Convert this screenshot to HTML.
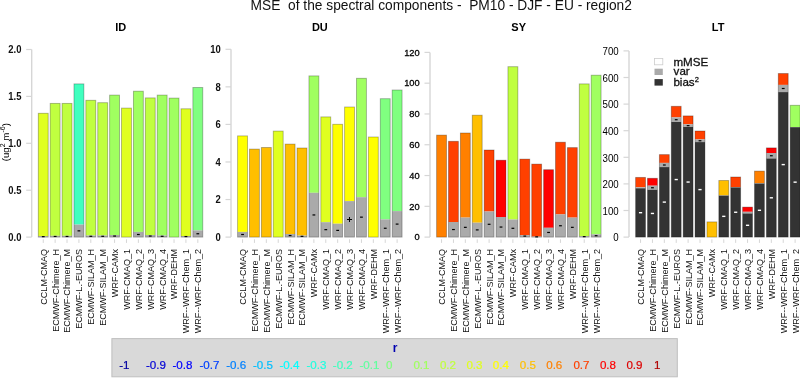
<!DOCTYPE html><html><head><meta charset="utf-8"><style>
html,body{margin:0;padding:0;background:#fff;width:800px;height:378px;overflow:hidden}
svg{display:block;will-change:transform}
text{font-family:"Liberation Sans",sans-serif;white-space:pre}
.tk{font-size:10.5px;font-weight:bold;fill:#111}
.tr{font-size:10px;fill:#000}
.tm{font-size:9.8px;fill:#000;stroke:#000;stroke-width:0.3px}
.xl{font-size:9.05px;fill:#111}
.pt{font-size:11px;font-weight:bold;fill:#000}
.sg{font-size:8px;font-weight:bold}
</style></head><body>
<svg width="800" height="378" viewBox="0 0 800 378">
<text x="250.6" y="9.75" style="font-size:13.76px;fill:#111">MSE  of the spectral components -  PM10 - DJF - EU - region2</text>
<text class="pt" x="120.8" y="31.2" text-anchor="middle">ID</text>
<line x1="31.7" y1="237.1" x2="31.7" y2="49.5" stroke="#d6d6d6" stroke-width="1.4"/>
<line x1="26.2" y1="237.1" x2="31.7" y2="237.1" stroke="#d6d6d6" stroke-width="1.2"/>
<text class="tk" transform="translate(21.4,241) scale(0.9,1)" text-anchor="end">0.0</text>
<line x1="26.2" y1="190.2" x2="31.7" y2="190.2" stroke="#d6d6d6" stroke-width="1.2"/>
<text class="tk" transform="translate(21.4,194.1) scale(0.9,1)" text-anchor="end">0.5</text>
<line x1="26.2" y1="143.3" x2="31.7" y2="143.3" stroke="#d6d6d6" stroke-width="1.2"/>
<text class="tk" transform="translate(21.4,147.2) scale(0.9,1)" text-anchor="end">1.0</text>
<line x1="26.2" y1="96.4" x2="31.7" y2="96.4" stroke="#d6d6d6" stroke-width="1.2"/>
<text class="tk" transform="translate(21.4,100.3) scale(0.9,1)" text-anchor="end">1.5</text>
<line x1="26.2" y1="49.5" x2="31.7" y2="49.5" stroke="#d6d6d6" stroke-width="1.2"/>
<text class="tk" transform="translate(21.4,53.4) scale(0.9,1)" text-anchor="end">2.0</text>
<rect x="38.3" y="113.3" width="9.9" height="122.9" fill="#e0ff20"/>
<rect x="38.3" y="236.2" width="9.9" height="0.9" fill="#aaaaaa"/>
<rect x="38.3" y="113.3" width="9.9" height="123.8" fill="none" stroke="rgba(0,0,0,0.3)" stroke-width="0.9"/>
<rect x="41.85" y="236.05" width="2.8" height="1.2" fill="#000"/>
<line x1="43.25" y1="239.3" x2="43.25" y2="242.9" stroke="#d6d6d6" stroke-width="1"/>
<text class="xl" transform="translate(46.7,248.9) rotate(-90)" text-anchor="end">CCLM-CMAQ</text>
<rect x="50.19" y="103.4" width="9.9" height="132.4" fill="#c0ff40"/>
<rect x="50.19" y="235.8" width="9.9" height="1.3" fill="#aaaaaa"/>
<rect x="50.19" y="103.4" width="9.9" height="133.7" fill="none" stroke="rgba(0,0,0,0.3)" stroke-width="0.9"/>
<rect x="53.74" y="235.85" width="2.8" height="1.2" fill="#000"/>
<line x1="55.14" y1="239.3" x2="55.14" y2="242.9" stroke="#d6d6d6" stroke-width="1"/>
<text class="xl" transform="translate(58.59,248.9) rotate(-90)" text-anchor="end">ECMWF-Chimere_H</text>
<rect x="62.08" y="103.4" width="9.9" height="132.4" fill="#c0ff40"/>
<rect x="62.08" y="235.8" width="9.9" height="1.3" fill="#aaaaaa"/>
<rect x="62.08" y="103.4" width="9.9" height="133.7" fill="none" stroke="rgba(0,0,0,0.3)" stroke-width="0.9"/>
<rect x="65.63" y="235.85" width="2.8" height="1.2" fill="#000"/>
<line x1="67.03" y1="239.3" x2="67.03" y2="242.9" stroke="#d6d6d6" stroke-width="1"/>
<text class="xl" transform="translate(70.48,248.9) rotate(-90)" text-anchor="end">ECMWF-Chimere_M</text>
<rect x="73.97" y="83.9" width="9.9" height="140.7" fill="#40ffbf"/>
<rect x="73.97" y="224.6" width="9.9" height="12.5" fill="#aaaaaa"/>
<rect x="73.97" y="83.9" width="9.9" height="153.2" fill="none" stroke="rgba(0,0,0,0.3)" stroke-width="0.9"/>
<rect x="77.52" y="230.25" width="2.8" height="1.2" fill="#000"/>
<line x1="78.92" y1="239.3" x2="78.92" y2="242.9" stroke="#d6d6d6" stroke-width="1"/>
<text class="xl" transform="translate(82.37,248.9) rotate(-90)" text-anchor="end">ECMWF-L.-EUROS</text>
<rect x="85.86" y="100.3" width="9.9" height="135.2" fill="#c0ff40"/>
<rect x="85.86" y="235.5" width="9.9" height="1.6" fill="#aaaaaa"/>
<rect x="85.86" y="100.3" width="9.9" height="136.8" fill="none" stroke="rgba(0,0,0,0.3)" stroke-width="0.9"/>
<rect x="89.41" y="235.7" width="2.8" height="1.2" fill="#000"/>
<line x1="90.81" y1="239.3" x2="90.81" y2="242.9" stroke="#d6d6d6" stroke-width="1"/>
<text class="xl" transform="translate(94.26,248.9) rotate(-90)" text-anchor="end">ECMWF-SILAM_H</text>
<rect x="97.75" y="102.7" width="9.9" height="132.8" fill="#c0ff40"/>
<rect x="97.75" y="235.5" width="9.9" height="1.6" fill="#aaaaaa"/>
<rect x="97.75" y="102.7" width="9.9" height="134.4" fill="none" stroke="rgba(0,0,0,0.3)" stroke-width="0.9"/>
<rect x="101.3" y="235.7" width="2.8" height="1.2" fill="#000"/>
<line x1="102.7" y1="239.3" x2="102.7" y2="242.9" stroke="#d6d6d6" stroke-width="1"/>
<text class="xl" transform="translate(106.15,248.9) rotate(-90)" text-anchor="end">ECMWF-SILAM_M</text>
<rect x="109.64" y="95.1" width="9.9" height="139.9" fill="#a0ff60"/>
<rect x="109.64" y="235" width="9.9" height="2.1" fill="#aaaaaa"/>
<rect x="109.64" y="95.1" width="9.9" height="142" fill="none" stroke="rgba(0,0,0,0.3)" stroke-width="0.9"/>
<rect x="113.19" y="235.45" width="2.8" height="1.2" fill="#000"/>
<line x1="114.59" y1="239.3" x2="114.59" y2="242.9" stroke="#d6d6d6" stroke-width="1"/>
<text class="xl" transform="translate(118.04,248.9) rotate(-90)" text-anchor="end">WRF-CAMx</text>
<rect x="121.53" y="108.1" width="9.9" height="129" fill="#e0ff20"/>
<rect x="121.53" y="108.1" width="9.9" height="129" fill="none" stroke="rgba(0,0,0,0.3)" stroke-width="0.9"/>
<line x1="126.48" y1="239.3" x2="126.48" y2="242.9" stroke="#d6d6d6" stroke-width="1"/>
<text class="xl" transform="translate(129.93,248.9) rotate(-90)" text-anchor="end">WRF-CMAQ_1</text>
<rect x="133.42" y="91.2" width="9.9" height="140.7" fill="#a0ff60"/>
<rect x="133.42" y="231.9" width="9.9" height="5.2" fill="#aaaaaa"/>
<rect x="133.42" y="91.2" width="9.9" height="145.9" fill="none" stroke="rgba(0,0,0,0.3)" stroke-width="0.9"/>
<rect x="136.97" y="233.9" width="2.8" height="1.2" fill="#000"/>
<line x1="138.37" y1="239.3" x2="138.37" y2="242.9" stroke="#d6d6d6" stroke-width="1"/>
<text class="xl" transform="translate(141.82,248.9) rotate(-90)" text-anchor="end">WRF-CMAQ_2</text>
<rect x="145.31" y="97.9" width="9.9" height="137.1" fill="#c0ff40"/>
<rect x="145.31" y="235" width="9.9" height="2.1" fill="#aaaaaa"/>
<rect x="145.31" y="97.9" width="9.9" height="139.2" fill="none" stroke="rgba(0,0,0,0.3)" stroke-width="0.9"/>
<rect x="148.86" y="235.45" width="2.8" height="1.2" fill="#000"/>
<line x1="150.26" y1="239.3" x2="150.26" y2="242.9" stroke="#d6d6d6" stroke-width="1"/>
<text class="xl" transform="translate(153.71,248.9) rotate(-90)" text-anchor="end">WRF-CMAQ_3</text>
<rect x="157.2" y="95.1" width="9.9" height="140.4" fill="#a0ff60"/>
<rect x="157.2" y="235.5" width="9.9" height="1.6" fill="#aaaaaa"/>
<rect x="157.2" y="95.1" width="9.9" height="142" fill="none" stroke="rgba(0,0,0,0.3)" stroke-width="0.9"/>
<rect x="160.75" y="235.7" width="2.8" height="1.2" fill="#000"/>
<line x1="162.15" y1="239.3" x2="162.15" y2="242.9" stroke="#d6d6d6" stroke-width="1"/>
<text class="xl" transform="translate(165.6,248.9) rotate(-90)" text-anchor="end">WRF-CMAQ_4</text>
<rect x="169.09" y="98.1" width="9.9" height="139" fill="#a0ff60"/>
<rect x="169.09" y="98.1" width="9.9" height="139" fill="none" stroke="rgba(0,0,0,0.3)" stroke-width="0.9"/>
<line x1="174.04" y1="239.3" x2="174.04" y2="242.9" stroke="#d6d6d6" stroke-width="1"/>
<text class="xl" transform="translate(177.49,248.9) rotate(-90)" text-anchor="end">WRF-DEHM</text>
<rect x="180.98" y="108.8" width="9.9" height="127.2" fill="#e0ff20"/>
<rect x="180.98" y="236" width="9.9" height="1.1" fill="#aaaaaa"/>
<rect x="180.98" y="108.8" width="9.9" height="128.3" fill="none" stroke="rgba(0,0,0,0.3)" stroke-width="0.9"/>
<rect x="184.53" y="235.95" width="2.8" height="1.2" fill="#000"/>
<line x1="185.93" y1="239.3" x2="185.93" y2="242.9" stroke="#d6d6d6" stroke-width="1"/>
<text class="xl" transform="translate(189.38,248.9) rotate(-90)" text-anchor="end">WRF--WRF-Chem_1</text>
<rect x="192.87" y="87.5" width="9.9" height="142.9" fill="#80ff80"/>
<rect x="192.87" y="230.4" width="9.9" height="6.7" fill="#aaaaaa"/>
<rect x="192.87" y="87.5" width="9.9" height="149.6" fill="none" stroke="rgba(0,0,0,0.3)" stroke-width="0.9"/>
<rect x="196.42" y="233.15" width="2.8" height="1.2" fill="#000"/>
<line x1="197.82" y1="239.3" x2="197.82" y2="242.9" stroke="#d6d6d6" stroke-width="1"/>
<text class="xl" transform="translate(201.27,248.9) rotate(-90)" text-anchor="end">WRF--WRF-Chem_2</text>
<text class="pt" x="319.85" y="31.2" text-anchor="middle">DU</text>
<line x1="231" y1="237.1" x2="231" y2="49.3" stroke="#d6d6d6" stroke-width="1.4"/>
<line x1="225.5" y1="237.1" x2="231" y2="237.1" stroke="#d6d6d6" stroke-width="1.2"/>
<text class="tk" transform="translate(220.7,241) scale(0.9,1)" text-anchor="end">0</text>
<line x1="225.5" y1="199.54" x2="231" y2="199.54" stroke="#d6d6d6" stroke-width="1.2"/>
<text class="tk" transform="translate(220.7,203.44) scale(0.9,1)" text-anchor="end">2</text>
<line x1="225.5" y1="161.98" x2="231" y2="161.98" stroke="#d6d6d6" stroke-width="1.2"/>
<text class="tk" transform="translate(220.7,165.88) scale(0.9,1)" text-anchor="end">4</text>
<line x1="225.5" y1="124.42" x2="231" y2="124.42" stroke="#d6d6d6" stroke-width="1.2"/>
<text class="tk" transform="translate(220.7,128.32) scale(0.9,1)" text-anchor="end">6</text>
<line x1="225.5" y1="86.86" x2="231" y2="86.86" stroke="#d6d6d6" stroke-width="1.2"/>
<text class="tk" transform="translate(220.7,90.76) scale(0.9,1)" text-anchor="end">8</text>
<line x1="225.5" y1="49.3" x2="231" y2="49.3" stroke="#d6d6d6" stroke-width="1.2"/>
<text class="tk" transform="translate(220.7,53.2) scale(0.9,1)" text-anchor="end">10</text>
<rect x="237.6" y="135.9" width="9.9" height="96" fill="#ffff00"/>
<rect x="237.6" y="231.9" width="9.9" height="5.2" fill="#aaaaaa"/>
<rect x="237.6" y="135.9" width="9.9" height="101.2" fill="none" stroke="rgba(0,0,0,0.3)" stroke-width="0.9"/>
<rect x="241.15" y="233.9" width="2.8" height="1.2" fill="#000"/>
<line x1="242.55" y1="239.3" x2="242.55" y2="242.9" stroke="#d6d6d6" stroke-width="1"/>
<text class="xl" transform="translate(246,248.9) rotate(-90)" text-anchor="end">CCLM-CMAQ</text>
<rect x="249.49" y="149.1" width="9.9" height="88" fill="#ffbf00"/>
<rect x="249.49" y="149.1" width="9.9" height="88" fill="none" stroke="rgba(0,0,0,0.3)" stroke-width="0.9"/>
<line x1="254.44" y1="239.3" x2="254.44" y2="242.9" stroke="#d6d6d6" stroke-width="1"/>
<text class="xl" transform="translate(257.89,248.9) rotate(-90)" text-anchor="end">ECMWF-Chimere_H</text>
<rect x="261.38" y="147.5" width="9.9" height="89.6" fill="#ffbf00"/>
<rect x="261.38" y="147.5" width="9.9" height="89.6" fill="none" stroke="rgba(0,0,0,0.3)" stroke-width="0.9"/>
<line x1="266.33" y1="239.3" x2="266.33" y2="242.9" stroke="#d6d6d6" stroke-width="1"/>
<text class="xl" transform="translate(269.78,248.9) rotate(-90)" text-anchor="end">ECMWF-Chimere_M</text>
<rect x="273.27" y="131.1" width="9.9" height="106" fill="#e0ff20"/>
<rect x="273.27" y="131.1" width="9.9" height="106" fill="none" stroke="rgba(0,0,0,0.3)" stroke-width="0.9"/>
<line x1="278.22" y1="239.3" x2="278.22" y2="242.9" stroke="#d6d6d6" stroke-width="1"/>
<text class="xl" transform="translate(281.67,248.9) rotate(-90)" text-anchor="end">ECMWF-L.-EUROS</text>
<rect x="285.16" y="144.1" width="9.9" height="89.9" fill="#ffbf00"/>
<rect x="285.16" y="234" width="9.9" height="3.1" fill="#aaaaaa"/>
<rect x="285.16" y="144.1" width="9.9" height="93" fill="none" stroke="rgba(0,0,0,0.3)" stroke-width="0.9"/>
<rect x="288.71" y="234.95" width="2.8" height="1.2" fill="#000"/>
<line x1="290.11" y1="239.3" x2="290.11" y2="242.9" stroke="#d6d6d6" stroke-width="1"/>
<text class="xl" transform="translate(293.56,248.9) rotate(-90)" text-anchor="end">ECMWF-SILAM_H</text>
<rect x="297.05" y="148" width="9.9" height="87.6" fill="#ffbf00"/>
<rect x="297.05" y="235.6" width="9.9" height="1.5" fill="#aaaaaa"/>
<rect x="297.05" y="148" width="9.9" height="89.1" fill="none" stroke="rgba(0,0,0,0.3)" stroke-width="0.9"/>
<rect x="300.6" y="235.75" width="2.8" height="1.2" fill="#000"/>
<line x1="302" y1="239.3" x2="302" y2="242.9" stroke="#d6d6d6" stroke-width="1"/>
<text class="xl" transform="translate(305.45,248.9) rotate(-90)" text-anchor="end">ECMWF-SILAM_M</text>
<rect x="308.94" y="75.9" width="9.9" height="116.9" fill="#a0ff60"/>
<rect x="308.94" y="192.8" width="9.9" height="44.3" fill="#aaaaaa"/>
<rect x="308.94" y="75.9" width="9.9" height="161.2" fill="none" stroke="rgba(0,0,0,0.3)" stroke-width="0.9"/>
<rect x="312.49" y="214.35" width="2.8" height="1.2" fill="#000"/>
<line x1="313.89" y1="239.3" x2="313.89" y2="242.9" stroke="#d6d6d6" stroke-width="1"/>
<text class="xl" transform="translate(317.34,248.9) rotate(-90)" text-anchor="end">WRF-CAMx</text>
<rect x="320.83" y="116.9" width="9.9" height="105.3" fill="#e0ff20"/>
<rect x="320.83" y="222.2" width="9.9" height="14.9" fill="#aaaaaa"/>
<rect x="320.83" y="116.9" width="9.9" height="120.2" fill="none" stroke="rgba(0,0,0,0.3)" stroke-width="0.9"/>
<rect x="324.38" y="229.05" width="2.8" height="1.2" fill="#000"/>
<line x1="325.78" y1="239.3" x2="325.78" y2="242.9" stroke="#d6d6d6" stroke-width="1"/>
<text class="xl" transform="translate(329.23,248.9) rotate(-90)" text-anchor="end">WRF-CMAQ_1</text>
<rect x="332.72" y="124.3" width="9.9" height="99.4" fill="#ffff00"/>
<rect x="332.72" y="223.7" width="9.9" height="13.4" fill="#aaaaaa"/>
<rect x="332.72" y="124.3" width="9.9" height="112.8" fill="none" stroke="rgba(0,0,0,0.3)" stroke-width="0.9"/>
<rect x="336.27" y="229.8" width="2.8" height="1.2" fill="#000"/>
<line x1="337.67" y1="239.3" x2="337.67" y2="242.9" stroke="#d6d6d6" stroke-width="1"/>
<text class="xl" transform="translate(341.12,248.9) rotate(-90)" text-anchor="end">WRF-CMAQ_2</text>
<rect x="344.61" y="107" width="9.9" height="94.1" fill="#ffff00"/>
<rect x="344.61" y="201.1" width="9.9" height="36" fill="#aaaaaa"/>
<rect x="344.61" y="107" width="9.9" height="130.1" fill="none" stroke="rgba(0,0,0,0.3)" stroke-width="0.9"/>
<rect x="347" y="219" width="5" height="1" fill="#000"/>
<rect x="349" y="217" width="1" height="5" fill="#000"/>
<line x1="349.56" y1="239.3" x2="349.56" y2="242.9" stroke="#d6d6d6" stroke-width="1"/>
<text class="xl" transform="translate(353.01,248.9) rotate(-90)" text-anchor="end">WRF-CMAQ_3</text>
<rect x="356.5" y="78.3" width="9.9" height="118.9" fill="#a0ff60"/>
<rect x="356.5" y="197.2" width="9.9" height="39.9" fill="#aaaaaa"/>
<rect x="356.5" y="78.3" width="9.9" height="158.8" fill="none" stroke="rgba(0,0,0,0.3)" stroke-width="0.9"/>
<rect x="360.05" y="216.55" width="2.8" height="1.2" fill="#000"/>
<line x1="361.45" y1="239.3" x2="361.45" y2="242.9" stroke="#d6d6d6" stroke-width="1"/>
<text class="xl" transform="translate(364.9,248.9) rotate(-90)" text-anchor="end">WRF-CMAQ_4</text>
<rect x="368.39" y="137" width="9.9" height="100.1" fill="#ffff00"/>
<rect x="368.39" y="137" width="9.9" height="100.1" fill="none" stroke="rgba(0,0,0,0.3)" stroke-width="0.9"/>
<line x1="373.34" y1="239.3" x2="373.34" y2="242.9" stroke="#d6d6d6" stroke-width="1"/>
<text class="xl" transform="translate(376.79,248.9) rotate(-90)" text-anchor="end">WRF-DEHM</text>
<rect x="380.28" y="98.7" width="9.9" height="120.7" fill="#80ff80"/>
<rect x="380.28" y="219.4" width="9.9" height="17.7" fill="#aaaaaa"/>
<rect x="380.28" y="98.7" width="9.9" height="138.4" fill="none" stroke="rgba(0,0,0,0.3)" stroke-width="0.9"/>
<rect x="383.83" y="227.65" width="2.8" height="1.2" fill="#000"/>
<line x1="385.23" y1="239.3" x2="385.23" y2="242.9" stroke="#d6d6d6" stroke-width="1"/>
<text class="xl" transform="translate(388.68,248.9) rotate(-90)" text-anchor="end">WRF--WRF-Chem_1</text>
<rect x="392.17" y="90" width="9.9" height="121.1" fill="#80ff80"/>
<rect x="392.17" y="211.1" width="9.9" height="26" fill="#aaaaaa"/>
<rect x="392.17" y="90" width="9.9" height="147.1" fill="none" stroke="rgba(0,0,0,0.3)" stroke-width="0.9"/>
<rect x="395.72" y="223.5" width="2.8" height="1.2" fill="#000"/>
<line x1="397.12" y1="239.3" x2="397.12" y2="242.9" stroke="#d6d6d6" stroke-width="1"/>
<text class="xl" transform="translate(400.57,248.9) rotate(-90)" text-anchor="end">WRF--WRF-Chem_2</text>
<text class="pt" x="518.7" y="31.2" text-anchor="middle">SY</text>
<line x1="430" y1="237.1" x2="430" y2="52.4" stroke="#d6d6d6" stroke-width="1.4"/>
<line x1="424.5" y1="237.1" x2="430" y2="237.1" stroke="#d6d6d6" stroke-width="1.2"/>
<text class="tm" transform="translate(419.7,240.3) scale(0.95,1)" text-anchor="end">0</text>
<line x1="424.5" y1="206.32" x2="430" y2="206.32" stroke="#d6d6d6" stroke-width="1.2"/>
<text class="tm" transform="translate(419.7,209.52) scale(0.95,1)" text-anchor="end">20</text>
<line x1="424.5" y1="175.53" x2="430" y2="175.53" stroke="#d6d6d6" stroke-width="1.2"/>
<text class="tm" transform="translate(419.7,178.73) scale(0.95,1)" text-anchor="end">40</text>
<line x1="424.5" y1="144.75" x2="430" y2="144.75" stroke="#d6d6d6" stroke-width="1.2"/>
<text class="tm" transform="translate(419.7,147.95) scale(0.95,1)" text-anchor="end">60</text>
<line x1="424.5" y1="113.97" x2="430" y2="113.97" stroke="#d6d6d6" stroke-width="1.2"/>
<text class="tm" transform="translate(419.7,117.17) scale(0.95,1)" text-anchor="end">80</text>
<line x1="424.5" y1="83.18" x2="430" y2="83.18" stroke="#d6d6d6" stroke-width="1.2"/>
<text class="tm" transform="translate(419.7,86.38) scale(0.95,1)" text-anchor="end">100</text>
<line x1="424.5" y1="52.4" x2="430" y2="52.4" stroke="#d6d6d6" stroke-width="1.2"/>
<text class="tm" transform="translate(419.7,55.6) scale(0.95,1)" text-anchor="end">120</text>
<rect x="436.6" y="135.1" width="9.9" height="102" fill="#ff8000"/>
<rect x="436.6" y="135.1" width="9.9" height="102" fill="none" stroke="rgba(0,0,0,0.3)" stroke-width="0.9"/>
<line x1="441.55" y1="239.3" x2="441.55" y2="242.9" stroke="#d6d6d6" stroke-width="1"/>
<text class="xl" transform="translate(445,248.9) rotate(-90)" text-anchor="end">CCLM-CMAQ</text>
<rect x="448.49" y="141.3" width="9.9" height="80.7" fill="#ff4000"/>
<rect x="448.49" y="222" width="9.9" height="15.1" fill="#aaaaaa"/>
<rect x="448.49" y="141.3" width="9.9" height="95.8" fill="none" stroke="rgba(0,0,0,0.3)" stroke-width="0.9"/>
<rect x="452.04" y="228.95" width="2.8" height="1.2" fill="#000"/>
<line x1="453.44" y1="239.3" x2="453.44" y2="242.9" stroke="#d6d6d6" stroke-width="1"/>
<text class="xl" transform="translate(456.89,248.9) rotate(-90)" text-anchor="end">ECMWF-Chimere_H</text>
<rect x="460.38" y="133" width="9.9" height="84.6" fill="#ff8000"/>
<rect x="460.38" y="217.6" width="9.9" height="19.5" fill="#aaaaaa"/>
<rect x="460.38" y="133" width="9.9" height="104.1" fill="none" stroke="rgba(0,0,0,0.3)" stroke-width="0.9"/>
<rect x="463.93" y="226.75" width="2.8" height="1.2" fill="#000"/>
<line x1="465.33" y1="239.3" x2="465.33" y2="242.9" stroke="#d6d6d6" stroke-width="1"/>
<text class="xl" transform="translate(468.78,248.9) rotate(-90)" text-anchor="end">ECMWF-Chimere_M</text>
<rect x="472.27" y="115.2" width="9.9" height="107.5" fill="#ffbf00"/>
<rect x="472.27" y="222.7" width="9.9" height="14.4" fill="#aaaaaa"/>
<rect x="472.27" y="115.2" width="9.9" height="121.9" fill="none" stroke="rgba(0,0,0,0.3)" stroke-width="0.9"/>
<rect x="475.82" y="229.3" width="2.8" height="1.2" fill="#000"/>
<line x1="477.22" y1="239.3" x2="477.22" y2="242.9" stroke="#d6d6d6" stroke-width="1"/>
<text class="xl" transform="translate(480.67,248.9) rotate(-90)" text-anchor="end">ECMWF-L.-EUROS</text>
<rect x="484.16" y="150" width="9.9" height="61.5" fill="#ff4000"/>
<rect x="484.16" y="211.5" width="9.9" height="25.6" fill="#aaaaaa"/>
<rect x="484.16" y="150" width="9.9" height="87.1" fill="none" stroke="rgba(0,0,0,0.3)" stroke-width="0.9"/>
<rect x="487.71" y="223.7" width="2.8" height="1.2" fill="#000"/>
<line x1="489.11" y1="239.3" x2="489.11" y2="242.9" stroke="#d6d6d6" stroke-width="1"/>
<text class="xl" transform="translate(492.56,248.9) rotate(-90)" text-anchor="end">ECMWF-SILAM_H</text>
<rect x="496.05" y="160.2" width="9.9" height="56.8" fill="#ff0000"/>
<rect x="496.05" y="217" width="9.9" height="20.1" fill="#aaaaaa"/>
<rect x="496.05" y="160.2" width="9.9" height="76.9" fill="none" stroke="rgba(0,0,0,0.3)" stroke-width="0.9"/>
<rect x="499.6" y="226.45" width="2.8" height="1.2" fill="#000"/>
<line x1="501" y1="239.3" x2="501" y2="242.9" stroke="#d6d6d6" stroke-width="1"/>
<text class="xl" transform="translate(504.45,248.9) rotate(-90)" text-anchor="end">ECMWF-SILAM_M</text>
<rect x="507.94" y="66.7" width="9.9" height="152.8" fill="#c0ff40"/>
<rect x="507.94" y="219.5" width="9.9" height="17.6" fill="#aaaaaa"/>
<rect x="507.94" y="66.7" width="9.9" height="170.4" fill="none" stroke="rgba(0,0,0,0.3)" stroke-width="0.9"/>
<rect x="511.49" y="227.7" width="2.8" height="1.2" fill="#000"/>
<line x1="512.89" y1="239.3" x2="512.89" y2="242.9" stroke="#d6d6d6" stroke-width="1"/>
<text class="xl" transform="translate(516.34,248.9) rotate(-90)" text-anchor="end">WRF-CAMx</text>
<rect x="519.83" y="159.1" width="9.9" height="76" fill="#ff4000"/>
<rect x="519.83" y="235.1" width="9.9" height="2" fill="#aaaaaa"/>
<rect x="519.83" y="159.1" width="9.9" height="78" fill="none" stroke="rgba(0,0,0,0.3)" stroke-width="0.9"/>
<rect x="523.38" y="235.5" width="2.8" height="1.2" fill="#000"/>
<line x1="524.78" y1="239.3" x2="524.78" y2="242.9" stroke="#d6d6d6" stroke-width="1"/>
<text class="xl" transform="translate(528.23,248.9) rotate(-90)" text-anchor="end">WRF-CMAQ_1</text>
<rect x="531.72" y="164.1" width="9.9" height="72.5" fill="#ff4000"/>
<rect x="531.72" y="236.6" width="9.9" height="0.5" fill="#aaaaaa"/>
<rect x="531.72" y="164.1" width="9.9" height="73" fill="none" stroke="rgba(0,0,0,0.3)" stroke-width="0.9"/>
<rect x="535.27" y="236.25" width="2.8" height="1.2" fill="#000"/>
<line x1="536.67" y1="239.3" x2="536.67" y2="242.9" stroke="#d6d6d6" stroke-width="1"/>
<text class="xl" transform="translate(540.12,248.9) rotate(-90)" text-anchor="end">WRF-CMAQ_2</text>
<rect x="543.61" y="169.7" width="9.9" height="58.1" fill="#ff0000"/>
<rect x="543.61" y="227.8" width="9.9" height="9.3" fill="#aaaaaa"/>
<rect x="543.61" y="169.7" width="9.9" height="67.4" fill="none" stroke="rgba(0,0,0,0.3)" stroke-width="0.9"/>
<rect x="547.16" y="231.85" width="2.8" height="1.2" fill="#000"/>
<line x1="548.56" y1="239.3" x2="548.56" y2="242.9" stroke="#d6d6d6" stroke-width="1"/>
<text class="xl" transform="translate(552.01,248.9) rotate(-90)" text-anchor="end">WRF-CMAQ_3</text>
<rect x="555.5" y="142.2" width="9.9" height="72.2" fill="#ff4000"/>
<rect x="555.5" y="214.4" width="9.9" height="22.7" fill="#aaaaaa"/>
<rect x="555.5" y="142.2" width="9.9" height="94.9" fill="none" stroke="rgba(0,0,0,0.3)" stroke-width="0.9"/>
<rect x="559.05" y="225.15" width="2.8" height="1.2" fill="#000"/>
<line x1="560.45" y1="239.3" x2="560.45" y2="242.9" stroke="#d6d6d6" stroke-width="1"/>
<text class="xl" transform="translate(563.9,248.9) rotate(-90)" text-anchor="end">WRF-CMAQ_4</text>
<rect x="567.39" y="147.6" width="9.9" height="70" fill="#ff4000"/>
<rect x="567.39" y="217.6" width="9.9" height="19.5" fill="#aaaaaa"/>
<rect x="567.39" y="147.6" width="9.9" height="89.5" fill="none" stroke="rgba(0,0,0,0.3)" stroke-width="0.9"/>
<rect x="570.94" y="226.75" width="2.8" height="1.2" fill="#000"/>
<line x1="572.34" y1="239.3" x2="572.34" y2="242.9" stroke="#d6d6d6" stroke-width="1"/>
<text class="xl" transform="translate(575.79,248.9) rotate(-90)" text-anchor="end">WRF-DEHM</text>
<rect x="579.28" y="83.9" width="9.9" height="152.3" fill="#c0ff40"/>
<rect x="579.28" y="236.2" width="9.9" height="0.9" fill="#aaaaaa"/>
<rect x="579.28" y="83.9" width="9.9" height="153.2" fill="none" stroke="rgba(0,0,0,0.3)" stroke-width="0.9"/>
<rect x="582.83" y="236.05" width="2.8" height="1.2" fill="#000"/>
<line x1="584.23" y1="239.3" x2="584.23" y2="242.9" stroke="#d6d6d6" stroke-width="1"/>
<text class="xl" transform="translate(587.68,248.9) rotate(-90)" text-anchor="end">WRF--WRF-Chem_1</text>
<rect x="591.17" y="75.2" width="9.9" height="159.1" fill="#a0ff60"/>
<rect x="591.17" y="234.3" width="9.9" height="2.8" fill="#aaaaaa"/>
<rect x="591.17" y="75.2" width="9.9" height="161.9" fill="none" stroke="rgba(0,0,0,0.3)" stroke-width="0.9"/>
<rect x="594.72" y="235.1" width="2.8" height="1.2" fill="#000"/>
<line x1="596.12" y1="239.3" x2="596.12" y2="242.9" stroke="#d6d6d6" stroke-width="1"/>
<text class="xl" transform="translate(599.57,248.9) rotate(-90)" text-anchor="end">WRF--WRF-Chem_2</text>
<text class="pt" x="718.1" y="31.2" text-anchor="middle">LT</text>
<line x1="629" y1="237.1" x2="629" y2="50.9" stroke="#d6d6d6" stroke-width="1.4"/>
<line x1="623.5" y1="237.1" x2="629" y2="237.1" stroke="#d6d6d6" stroke-width="1.2"/>
<text class="tr" transform="translate(618.7,241.3) scale(0.97,1)" text-anchor="end">0</text>
<line x1="623.5" y1="210.5" x2="629" y2="210.5" stroke="#d6d6d6" stroke-width="1.2"/>
<text class="tr" transform="translate(618.7,214.7) scale(0.97,1)" text-anchor="end">100</text>
<line x1="623.5" y1="183.9" x2="629" y2="183.9" stroke="#d6d6d6" stroke-width="1.2"/>
<text class="tr" transform="translate(618.7,188.1) scale(0.97,1)" text-anchor="end">200</text>
<line x1="623.5" y1="157.3" x2="629" y2="157.3" stroke="#d6d6d6" stroke-width="1.2"/>
<text class="tr" transform="translate(618.7,161.5) scale(0.97,1)" text-anchor="end">300</text>
<line x1="623.5" y1="130.7" x2="629" y2="130.7" stroke="#d6d6d6" stroke-width="1.2"/>
<text class="tr" transform="translate(618.7,134.9) scale(0.97,1)" text-anchor="end">400</text>
<line x1="623.5" y1="104.1" x2="629" y2="104.1" stroke="#d6d6d6" stroke-width="1.2"/>
<text class="tr" transform="translate(618.7,108.3) scale(0.97,1)" text-anchor="end">500</text>
<line x1="623.5" y1="77.5" x2="629" y2="77.5" stroke="#d6d6d6" stroke-width="1.2"/>
<text class="tr" transform="translate(618.7,81.7) scale(0.97,1)" text-anchor="end">600</text>
<line x1="623.5" y1="50.9" x2="629" y2="50.9" stroke="#d6d6d6" stroke-width="1.2"/>
<text class="tr" transform="translate(618.7,55.1) scale(0.97,1)" text-anchor="end">700</text>
<rect x="635.6" y="177.4" width="9.9" height="9.9" fill="#ff4000"/>
<rect x="635.6" y="187.3" width="9.9" height="1" fill="#aaaaaa"/>
<rect x="635.6" y="188.3" width="9.9" height="48.8" fill="#333333"/>
<rect x="635.6" y="177.4" width="9.9" height="59.7" fill="none" stroke="rgba(0,0,0,0.3)" stroke-width="0.9"/>
<rect x="638.95" y="212" width="3.2" height="1.4" fill="#fff"/>
<line x1="640.55" y1="239.3" x2="640.55" y2="242.9" stroke="#d6d6d6" stroke-width="1"/>
<text class="xl" transform="translate(644,248.9) rotate(-90)" text-anchor="end">CCLM-CMAQ</text>
<rect x="647.49" y="178.3" width="9.9" height="7.4" fill="#ff0000"/>
<rect x="647.49" y="185.7" width="9.9" height="4.1" fill="#aaaaaa"/>
<rect x="647.49" y="189.8" width="9.9" height="47.3" fill="#333333"/>
<rect x="647.49" y="178.3" width="9.9" height="58.8" fill="none" stroke="rgba(0,0,0,0.3)" stroke-width="0.9"/>
<rect x="651.04" y="187.15" width="2.8" height="1.2" fill="#000"/>
<rect x="650.84" y="212.75" width="3.2" height="1.4" fill="#fff"/>
<line x1="652.44" y1="239.3" x2="652.44" y2="242.9" stroke="#d6d6d6" stroke-width="1"/>
<text class="xl" transform="translate(655.89,248.9) rotate(-90)" text-anchor="end">ECMWF-Chimere_H</text>
<rect x="659.38" y="154.6" width="9.9" height="8.3" fill="#ff4000"/>
<rect x="659.38" y="162.9" width="9.9" height="4.2" fill="#aaaaaa"/>
<rect x="659.38" y="167.1" width="9.9" height="70" fill="#333333"/>
<rect x="659.38" y="154.6" width="9.9" height="82.5" fill="none" stroke="rgba(0,0,0,0.3)" stroke-width="0.9"/>
<rect x="662.93" y="164.4" width="2.8" height="1.2" fill="#000"/>
<rect x="662.73" y="201.4" width="3.2" height="1.4" fill="#fff"/>
<line x1="664.33" y1="239.3" x2="664.33" y2="242.9" stroke="#d6d6d6" stroke-width="1"/>
<text class="xl" transform="translate(667.78,248.9) rotate(-90)" text-anchor="end">ECMWF-Chimere_M</text>
<rect x="671.27" y="106.3" width="9.9" height="11.1" fill="#ff4000"/>
<rect x="671.27" y="117.4" width="9.9" height="4.6" fill="#aaaaaa"/>
<rect x="671.27" y="122" width="9.9" height="115.1" fill="#333333"/>
<rect x="671.27" y="106.3" width="9.9" height="130.8" fill="none" stroke="rgba(0,0,0,0.3)" stroke-width="0.9"/>
<rect x="674.82" y="119.1" width="2.8" height="1.2" fill="#000"/>
<rect x="674.62" y="178.85" width="3.2" height="1.4" fill="#fff"/>
<line x1="676.22" y1="239.3" x2="676.22" y2="242.9" stroke="#d6d6d6" stroke-width="1"/>
<text class="xl" transform="translate(679.67,248.9) rotate(-90)" text-anchor="end">ECMWF-L.-EUROS</text>
<rect x="683.16" y="115.9" width="9.9" height="8.4" fill="#ff4000"/>
<rect x="683.16" y="124.3" width="9.9" height="2.7" fill="#aaaaaa"/>
<rect x="683.16" y="127" width="9.9" height="110.1" fill="#333333"/>
<rect x="683.16" y="115.9" width="9.9" height="121.2" fill="none" stroke="rgba(0,0,0,0.3)" stroke-width="0.9"/>
<rect x="686.71" y="125.05" width="2.8" height="1.2" fill="#000"/>
<rect x="686.51" y="181.35" width="3.2" height="1.4" fill="#fff"/>
<line x1="688.11" y1="239.3" x2="688.11" y2="242.9" stroke="#d6d6d6" stroke-width="1"/>
<text class="xl" transform="translate(691.56,248.9) rotate(-90)" text-anchor="end">ECMWF-SILAM_H</text>
<rect x="695.05" y="131" width="9.9" height="8.4" fill="#ff4000"/>
<rect x="695.05" y="139.4" width="9.9" height="2.7" fill="#aaaaaa"/>
<rect x="695.05" y="142.1" width="9.9" height="95" fill="#333333"/>
<rect x="695.05" y="131" width="9.9" height="106.1" fill="none" stroke="rgba(0,0,0,0.3)" stroke-width="0.9"/>
<rect x="698.6" y="140.15" width="2.8" height="1.2" fill="#000"/>
<rect x="698.4" y="188.9" width="3.2" height="1.4" fill="#fff"/>
<line x1="700" y1="239.3" x2="700" y2="242.9" stroke="#d6d6d6" stroke-width="1"/>
<text class="xl" transform="translate(703.45,248.9) rotate(-90)" text-anchor="end">ECMWF-SILAM_M</text>
<rect x="706.94" y="221.9" width="9.9" height="15.2" fill="#ffbf00"/>
<rect x="706.94" y="221.9" width="9.9" height="15.2" fill="none" stroke="rgba(0,0,0,0.3)" stroke-width="0.9"/>
<line x1="711.89" y1="239.3" x2="711.89" y2="242.9" stroke="#d6d6d6" stroke-width="1"/>
<text class="xl" transform="translate(715.34,248.9) rotate(-90)" text-anchor="end">WRF-CAMx</text>
<rect x="718.83" y="180.5" width="9.9" height="14.9" fill="#ffbf00"/>
<rect x="718.83" y="195.4" width="9.9" height="0.2" fill="#aaaaaa"/>
<rect x="718.83" y="195.6" width="9.9" height="41.5" fill="#333333"/>
<rect x="718.83" y="180.5" width="9.9" height="56.6" fill="none" stroke="rgba(0,0,0,0.3)" stroke-width="0.9"/>
<rect x="722.18" y="215.65" width="3.2" height="1.4" fill="#fff"/>
<line x1="723.78" y1="239.3" x2="723.78" y2="242.9" stroke="#d6d6d6" stroke-width="1"/>
<text class="xl" transform="translate(727.23,248.9) rotate(-90)" text-anchor="end">WRF-CMAQ_1</text>
<rect x="730.72" y="177" width="9.9" height="10.1" fill="#ff4000"/>
<rect x="730.72" y="187.1" width="9.9" height="0.3" fill="#aaaaaa"/>
<rect x="730.72" y="187.4" width="9.9" height="49.7" fill="#333333"/>
<rect x="730.72" y="177" width="9.9" height="60.1" fill="none" stroke="rgba(0,0,0,0.3)" stroke-width="0.9"/>
<rect x="734.07" y="211.55" width="3.2" height="1.4" fill="#fff"/>
<line x1="735.67" y1="239.3" x2="735.67" y2="242.9" stroke="#d6d6d6" stroke-width="1"/>
<text class="xl" transform="translate(739.12,248.9) rotate(-90)" text-anchor="end">WRF-CMAQ_2</text>
<rect x="742.61" y="207.1" width="9.9" height="4.7" fill="#ff0000"/>
<rect x="742.61" y="211.8" width="9.9" height="1.7" fill="#aaaaaa"/>
<rect x="742.61" y="213.5" width="9.9" height="23.6" fill="#333333"/>
<rect x="742.61" y="207.1" width="9.9" height="30" fill="none" stroke="rgba(0,0,0,0.3)" stroke-width="0.9"/>
<rect x="745.96" y="224.6" width="3.2" height="1.4" fill="#fff"/>
<line x1="747.56" y1="239.3" x2="747.56" y2="242.9" stroke="#d6d6d6" stroke-width="1"/>
<text class="xl" transform="translate(751.01,248.9) rotate(-90)" text-anchor="end">WRF-CMAQ_3</text>
<rect x="754.5" y="171.1" width="9.9" height="12.1" fill="#ff8000"/>
<rect x="754.5" y="183.2" width="9.9" height="0.3" fill="#aaaaaa"/>
<rect x="754.5" y="183.5" width="9.9" height="53.6" fill="#333333"/>
<rect x="754.5" y="171.1" width="9.9" height="66" fill="none" stroke="rgba(0,0,0,0.3)" stroke-width="0.9"/>
<rect x="757.85" y="209.6" width="3.2" height="1.4" fill="#fff"/>
<line x1="759.45" y1="239.3" x2="759.45" y2="242.9" stroke="#d6d6d6" stroke-width="1"/>
<text class="xl" transform="translate(762.9,248.9) rotate(-90)" text-anchor="end">WRF-CMAQ_4</text>
<rect x="766.39" y="147.9" width="9.9" height="5.1" fill="#ff0000"/>
<rect x="766.39" y="153" width="9.9" height="5.5" fill="#aaaaaa"/>
<rect x="766.39" y="158.5" width="9.9" height="78.6" fill="#333333"/>
<rect x="766.39" y="147.9" width="9.9" height="89.2" fill="none" stroke="rgba(0,0,0,0.3)" stroke-width="0.9"/>
<rect x="769.94" y="155.15" width="2.8" height="1.2" fill="#000"/>
<rect x="769.74" y="197.1" width="3.2" height="1.4" fill="#fff"/>
<line x1="771.34" y1="239.3" x2="771.34" y2="242.9" stroke="#d6d6d6" stroke-width="1"/>
<text class="xl" transform="translate(774.79,248.9) rotate(-90)" text-anchor="end">WRF-DEHM</text>
<rect x="778.28" y="73.5" width="9.9" height="11.4" fill="#ff4000"/>
<rect x="778.28" y="84.9" width="9.9" height="7.2" fill="#aaaaaa"/>
<rect x="778.28" y="92.1" width="9.9" height="145" fill="#333333"/>
<rect x="778.28" y="73.5" width="9.9" height="163.6" fill="none" stroke="rgba(0,0,0,0.3)" stroke-width="0.9"/>
<rect x="781.83" y="87.9" width="2.8" height="1.2" fill="#000"/>
<rect x="781.63" y="163.9" width="3.2" height="1.4" fill="#fff"/>
<line x1="783.23" y1="239.3" x2="783.23" y2="242.9" stroke="#d6d6d6" stroke-width="1"/>
<text class="xl" transform="translate(786.68,248.9) rotate(-90)" text-anchor="end">WRF--WRF-Chem_1</text>
<rect x="790.17" y="105.3" width="9.9" height="21.8" fill="#a0ff60"/>
<rect x="790.17" y="127.1" width="9.9" height="0.1" fill="#aaaaaa"/>
<rect x="790.17" y="127.2" width="9.9" height="109.9" fill="#333333"/>
<rect x="790.17" y="105.3" width="9.9" height="131.8" fill="none" stroke="rgba(0,0,0,0.3)" stroke-width="0.9"/>
<rect x="793.52" y="181.45" width="3.2" height="1.4" fill="#fff"/>
<line x1="795.12" y1="239.3" x2="795.12" y2="242.9" stroke="#d6d6d6" stroke-width="1"/>
<text class="xl" transform="translate(798.57,248.9) rotate(-90)" text-anchor="end">WRF--WRF-Chem_2</text>
<text transform="translate(9.3,142.2) rotate(-90)" text-anchor="middle" style="font-size:9.7px;fill:#000">(ug<tspan dy="-4" style="font-size:7px">2</tspan><tspan dy="4"> m</tspan><tspan dy="-4" style="font-size:7px">-6</tspan><tspan dy="4">)</tspan></text>
<rect x="654.5" y="58.5" width="8.3" height="6.3" fill="#fff" stroke="#ccc" stroke-width="0.8"/>
<rect x="654.5" y="68.7" width="8.3" height="6.3" fill="#aaaaaa"/>
<rect x="654.5" y="79.1" width="8.3" height="6.5" fill="#333333"/>
<text x="673.4" y="65.6" style="font-size:11.6px;fill:#111;stroke:#111;stroke-width:0.3px">mMSE</text>
<text x="673.6" y="74.6" style="font-size:11.6px;fill:#111;stroke:#111;stroke-width:0.3px">var</text>
<text x="673.4" y="85.7" style="font-size:11.6px;fill:#111;stroke:#111;stroke-width:0.3px">bias<tspan dy="-3.9" style="font-size:7.5px">2</tspan></text>
<rect x="111.9" y="338.6" width="565.4" height="38.2" fill="#d9d9d9" stroke="#bfbfbf" stroke-width="1"/>
<text x="395.1" y="351.6" text-anchor="middle" style="font-size:12px;font-weight:bold;fill:#0000b0">r</text>
<text x="119.2" y="369.2" style="font-size:11.6px;fill:#0000a0;stroke:#0000a0;stroke-width:0.2px">-1</text>
<text x="145.9" y="369.2" style="font-size:11.6px;fill:#0000d5;stroke:#0000d5;stroke-width:0.2px">-0.9</text>
<text x="172.4" y="369.2" style="font-size:11.6px;fill:#0000ff;stroke:#0000ff;stroke-width:0.2px">-0.8</text>
<text x="199.4" y="369.2" style="font-size:11.6px;fill:#0040ff;stroke:#0040ff;stroke-width:0.2px">-0.7</text>
<text x="226.2" y="369.2" style="font-size:11.6px;fill:#0080ff;stroke:#0080ff;stroke-width:0.2px">-0.6</text>
<text x="252.9" y="369.2" style="font-size:11.6px;fill:#00bfff;stroke:#00bfff;stroke-width:0.2px">-0.5</text>
<text x="279.4" y="369.2" style="font-size:11.6px;fill:#00ffff;stroke:#00ffff;stroke-width:0.2px">-0.4</text>
<text x="306.4" y="369.2" style="font-size:11.6px;fill:#20ffdf;stroke:#20ffdf;stroke-width:0.2px">-0.3</text>
<text x="332.8" y="369.2" style="font-size:11.6px;fill:#40ffbf;stroke:#40ffbf;stroke-width:0.2px">-0.2</text>
<text x="359.4" y="369.2" style="font-size:11.6px;fill:#60ff9f;stroke:#60ff9f;stroke-width:0.2px">-0.1</text>
<text x="386.1" y="369.2" style="font-size:11.6px;fill:#80ff80;stroke:#80ff80;stroke-width:0.2px">0</text>
<text x="413.4" y="369.2" style="font-size:11.6px;fill:#a0ff60;stroke:#a0ff60;stroke-width:0.2px">0.1</text>
<text x="439.9" y="369.2" style="font-size:11.6px;fill:#c0ff40;stroke:#c0ff40;stroke-width:0.2px">0.2</text>
<text x="466.4" y="369.2" style="font-size:11.6px;fill:#e0ff20;stroke:#e0ff20;stroke-width:0.2px">0.3</text>
<text x="492.8" y="369.2" style="font-size:11.6px;fill:#ffff00;stroke:#ffff00;stroke-width:0.2px">0.4</text>
<text x="519.8" y="369.2" style="font-size:11.6px;fill:#ffbf00;stroke:#ffbf00;stroke-width:0.2px">0.5</text>
<text x="546.2" y="369.2" style="font-size:11.6px;fill:#ff8000;stroke:#ff8000;stroke-width:0.2px">0.6</text>
<text x="573.4" y="369.2" style="font-size:11.6px;fill:#ff4000;stroke:#ff4000;stroke-width:0.2px">0.7</text>
<text x="599.9" y="369.2" style="font-size:11.6px;fill:#ff0000;stroke:#ff0000;stroke-width:0.2px">0.8</text>
<text x="626.4" y="369.2" style="font-size:11.6px;fill:#dd0000;stroke:#dd0000;stroke-width:0.2px">0.9</text>
<text x="653.9" y="369.2" style="font-size:11.6px;fill:#b00000;stroke:#b00000;stroke-width:0.2px">1</text>
</svg></body></html>
